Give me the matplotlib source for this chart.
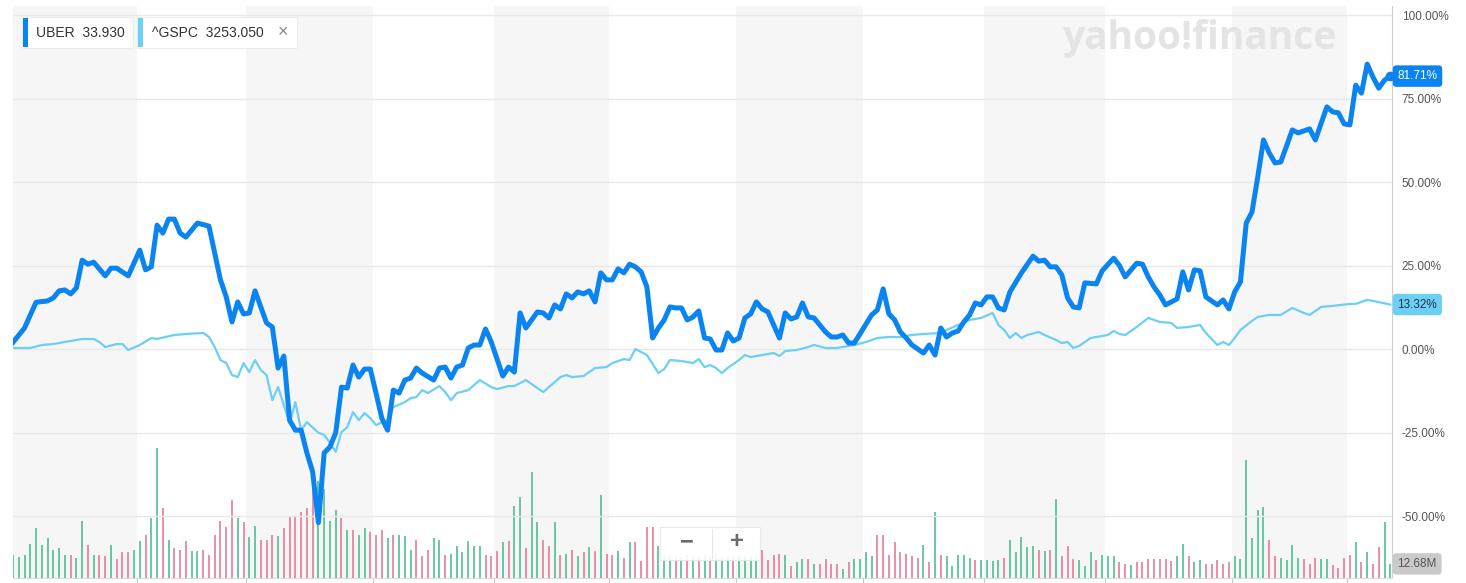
import matplotlib
matplotlib.use("Agg")
import matplotlib.pyplot as plt
from matplotlib.patches import Rectangle

plt.rcParams["font.family"] = ["Liberation Sans", "DejaVu Sans"]

#%% Data (trading-day index from 31 Dec 2019, % change vs. first close)

uber_day = [0, 2, 4, 6, 7, 8, 9, 10, 11, 12, 13, 14, 16, 17, 18, 20, 22, 23, 24, 25,
            26, 27, 28, 29, 30, 32, 34, 36, 37, 38, 39, 40, 41, 42, 44, 45, 46, 47, 48, 49,
            50, 51, 52, 53, 54, 55, 56, 57, 58, 59, 60, 61, 62, 63, 64, 65, 66, 67, 68, 69,
            70, 71, 73, 74, 75, 76, 77, 78, 79, 80, 81, 82, 83, 85, 86, 87, 88, 89, 91, 92,
            93, 94, 95, 96, 97, 98, 99, 100, 101, 102, 103, 104, 105, 106, 107, 108, 109, 110, 111, 112,
            113, 114, 115, 116, 117, 118, 119, 120, 121, 122, 123, 124, 125, 126, 127, 128, 129, 130, 131, 132,
            133, 134, 135, 136, 137, 138, 139, 141, 142, 143, 144, 145, 146, 149, 150, 151, 152, 153, 154, 155,
            156, 158, 159, 160, 161, 162, 163, 164, 165, 166, 167, 168, 169, 170, 171, 172, 173, 175, 177, 178,
            179, 180, 181, 182, 183, 184, 185, 186, 188, 189, 191, 192, 193, 195, 196, 197, 198, 199, 200, 202,
            203, 204, 205, 206, 207, 209, 210, 211, 212, 213, 214, 215, 216, 217, 218, 219, 220, 222, 223, 225,
            226, 228, 229, 230, 231, 232, 233, 234, 235, 236, 237, 238, 239]
uber_pct = [2.0, 6.3, 14.0, 14.4, 15.3, 17.4, 17.7, 16.5, 18.3, 26.6, 25.4, 26.0, 21.9, 24.2, 24.2, 21.9, 29.6, 23.7, 24.6, 37.1,
            34.7, 38.9, 38.9, 34.7, 33.5, 37.7, 36.8, 20.7, 15.6, 8.1, 14.1, 10.5, 10.8, 17.4, 7.8, 6.6, -5.7, -2.1, -21.3, -24.3,
            -24.3, -31.1, -36.8, -52.0, -31.1, -29.3, -25.1, -11.4, -11.7, -4.8, -8.4, -6.0, -6.0, -13.2, -20.7, -24.3, -12.3, -13.2, -9.3, -8.7,
            -5.7, -7.2, -9.3, -5.7, -5.4, -8.7, -5.4, -4.8, 0.3, 1.2, 1.2, 6.0, 2.1, -8.1, -5.4, -6.9, 10.8, 6.3, 11.1, 10.8,
            9.3, 13.2, 12.0, 16.5, 15.3, 17.1, 16.5, 17.4, 14.1, 22.8, 20.7, 20.7, 24.0, 22.8, 25.4, 24.6, 23.1, 18.6, 3.3, 6.3,
            8.7, 12.6, 12.3, 12.3, 8.7, 9.6, 11.4, 3.3, 3.0, -0.3, -0.3, 4.8, 2.4, 3.3, 9.3, 10.5, 14.1, 12.0, 11.1, 7.2,
            3.3, 10.8, 9.0, 9.6, 13.8, 9.6, 9.3, 5.1, 3.6, 3.6, 4.2, 1.8, 1.8, 10.2, 11.7, 18.0, 10.5, 8.7, 5.1, 3.3,
            1.2, -1.2, 1.2, -1.8, 6.3, 3.6, 4.8, 5.4, 8.1, 10.2, 13.8, 13.2, 15.6, 15.6, 12.3, 11.7, 17.1, 22.8, 27.8, 26.3,
            26.6, 24.6, 24.6, 22.2, 15.3, 12.6, 12.3, 19.8, 19.5, 23.4, 27.2, 25.0, 21.6, 25.7, 25.4, 21.6, 18.6, 16.2, 13.2, 15.0,
            23.1, 17.7, 23.7, 23.4, 15.6, 13.2, 14.7, 12.0, 17.1, 20.1, 37.7, 41.0, 51.5, 62.6, 58.7, 55.7, 56.0, 65.6, 64.7, 65.9,
            62.6, 72.5, 71.0, 70.7, 67.4, 67.1, 79.0, 76.6, 85.3, 81.4, 78.1, 80.5, 81.71]

gspc_day = [0, 2, 3, 5, 7, 9, 12, 14, 15, 16, 18, 19, 20, 22, 24, 25, 28, 30, 33, 34,
            35, 36, 37, 38, 39, 40, 41, 42, 43, 44, 45, 46, 48, 49, 50, 51, 53, 54, 55, 56,
            57, 58, 59, 60, 61, 62, 63, 64, 65, 66, 68, 69, 70, 71, 72, 74, 75, 76, 77, 79,
            80, 81, 83, 84, 86, 87, 89, 92, 93, 95, 96, 97, 99, 101, 103, 104, 106, 107, 108, 109,
            110, 112, 113, 114, 116, 118, 119, 120, 121, 122, 123, 124, 125, 126, 127, 128, 130, 132, 133, 134,
            136, 138, 139, 141, 143, 144, 145, 146, 148, 150, 152, 154, 156, 158, 161, 162, 164, 166, 168, 170,
            171, 172, 173, 174, 175, 176, 178, 179, 181, 182, 183, 184, 185, 187, 188, 190, 191, 192, 193, 195,
            197, 199, 201, 202, 204, 206, 207, 209, 210, 211, 212, 213, 215, 216, 218, 220, 222, 224, 225, 227,
            229, 232, 233, 235, 236, 239]
gspc_pct = [0.3, 0.3, 0.3, 1.2, 1.5, 2.1, 3.0, 3.0, 2.1, 0.6, 1.5, 1.5, -0.3, 1.2, 3.3, 3.0, 4.2, 4.5, 4.8, 3.6,
            0.6, -3.3, -4.2, -7.8, -8.4, -4.2, -6.9, -3.3, -6.3, -7.8, -15.3, -11.4, -22.2, -15.9, -24.3, -21.9, -25.1, -25.7, -28.1, -30.8,
            -24.9, -23.4, -18.9, -21.3, -19.2, -20.7, -22.8, -21.9, -21.3, -17.4, -15.9, -14.7, -14.4, -12.3, -13.2, -11.1, -12.9, -15.3, -13.2, -12.3,
            -10.8, -9.3, -11.4, -12.0, -11.1, -11.1, -9.3, -12.9, -11.4, -8.4, -7.8, -8.4, -8.1, -5.7, -5.4, -4.2, -3.0, -3.3, 0.0, -0.9,
            -1.8, -7.2, -6.0, -3.3, -3.6, -4.2, -3.0, -5.4, -4.8, -5.7, -7.2, -5.7, -4.5, -3.3, -1.8, -2.4, -1.8, -1.2, -2.1, -0.6,
            -0.3, 0.6, 1.2, 0.3, 0.3, 0.6, 0.9, 1.2, 2.1, 3.3, 3.6, 3.6, 4.2, 4.5, 4.8, 5.7, 7.2, 8.7, 9.3, 10.8,
            7.2, 5.7, 3.3, 4.8, 3.3, 4.2, 5.1, 4.2, 2.7, 1.8, 2.1, 0.3, 0.9, 3.3, 3.6, 4.2, 5.4, 4.5, 4.2, 6.6,
            9.3, 8.1, 7.8, 6.3, 6.6, 7.2, 4.8, 1.2, 2.1, 1.2, 3.3, 5.7, 8.4, 9.6, 10.2, 10.2, 12.3, 10.8, 10.2, 12.6,
            12.9, 13.5, 13.5, 14.7, 14.4, 13.32]

# UBER daily volume (millions), one bar per trading day 0..239
volume_m = [21, 19, 21, 31, 45, 30, 36, 25, 27, 21, 21, 18, 51, 30, 21, 21, 20, 30, 17, 23,
            23, 25, 33, 39, 54, 117, 63, 34, 27, 25, 33, 24, 24, 25, 21, 39, 51, 46, 70, 54,
            50, 37, 47, 34, 34, 39, 38, 45, 56, 56, 59, 63, 81, 87, 80, 51, 61, 54, 43, 43,
            39, 45, 41, 39, 43, 36, 39, 39, 38, 25, 34, 20, 25, 36, 34, 21, 22, 29, 23, 33,
            29, 29, 21, 20, 24, 32, 33, 65, 73, 27, 95, 50, 34, 29, 50, 21, 22, 25, 20, 23,
            28, 24, 75, 22, 21, 24, 18, 32, 32, 15, 46, 46, 29, 20, 20, 20, 19, 21, 20, 19,
            21, 20, 22, 19, 20, 20, 21, 19, 20, 21, 25, 16, 21, 22, 21, 11, 14, 17, 17, 13,
            13, 17, 13, 13, 8, 14, 17, 17, 23, 20, 39, 39, 21, 32, 23, 22, 20, 18, 30, 14,
            59, 21, 20, 11, 21, 21, 18, 16, 16, 16, 15, 16, 18, 34, 23, 37, 28, 29, 25, 24,
            25, 71, 20, 29, 17, 16, 11, 23, 16, 21, 20, 20, 14, 13, 12, 14, 14, 17, 17, 17,
            17, 15, 20, 31, 20, 14, 16, 13, 13, 16, 13, 14, 20, 17, 106, 36, 61, 64, 34, 20,
            18, 16, 30, 18, 17, 13, 18, 17, 17, 12, 9, 18, 21, 32, 14, 23, 13, 28, 50, 12.68]
volume_dir = ("gggggggggg" "rggrgrrgrr" "rggrggrgrr" "rggrrrrrrg" "rggrrrgrrr"
              "rrrggggrgr" "ggrrrgrggg" "rrrggrgggg" "ggrrr"
              "grggrggrrg" "rgrgrgrgrr" "grgrrrrggg" "rgrgrgrggg" "rggggrrrrg"
              "rggrgrrrrg" "rggggrrrrr" "rrrgrgrggg" "ggrgggg"
              "rgggggrgrg" "rrrgggrggg" "rrgrrrrrrr" "ggrggrrrrr" "ggggggrrgg"
              "ggrrrggrrr" "rgrgrrgg")

# first trading day of each month (Jan..Dec 2020)
month_start = [1, 22, 41, 63, 84, 104, 126, 148, 169, 190, 212, 232]

uber_last, gspc_last, vol_last = 81.71, 13.32, 12.68

#%% Colours

UBER_BLUE = "#0a84f0"
GSPC_BLUE = "#6ccff6"
UP_GREEN = "#3fb98a"
DOWN_RED = "#e3708a"
BAND = "#f6f6f6"

#%% Figure

W, H = 1466, 583
fig = plt.figure(figsize=(W / 100, H / 100), dpi=100)
rect = [13 / W, 5 / H, 1379 / W, 572 / H]

ax_v = fig.add_axes(rect)   # volume + background bands
ax = fig.add_axes(rect)     # percent lines on top
ax.patch.set_visible(False)

xmin, xmax = 0, 239.3

# alternating month bands
bounds = [xmin] + [m - 0.5 for m in month_start[1:]] + [xmax]
for i in range(len(bounds) - 1):
    if i % 2 == 0:
        ax_v.axvspan(bounds[i], bounds[i + 1], color=BAND, lw=0, zorder=0)

# volume bars
days = list(range(len(volume_m)))
bar_colors = [UP_GREEN if c == "g" else DOWN_RED for c in volume_dir]
ax_v.vlines(days, 0, volume_m, colors=bar_colors, linewidth=1.1, zorder=2)
ax_v.set_ylim(0, 572 * 0.9)
ax_v.set_xlim(xmin, xmax)
ax_v.axis("off")

# percent gridlines
yticks = [-50, -25, 0, 25, 50, 75, 100]
for yt in yticks:
    ax.axhline(yt, color="#e8e8e8", lw=1, zorder=1)

ax.plot(gspc_day, gspc_pct, color=GSPC_BLUE, lw=1.6, solid_joinstyle="round", zorder=3)
ax.plot(uber_day, uber_pct, color=UBER_BLUE, lw=3.6, solid_joinstyle="round", zorder=4)
ax.plot(uber_day[-1], uber_pct[-1], "o", color=UBER_BLUE, ms=6, zorder=5, clip_on=False)

ax.set_xlim(xmin, xmax)
ax.set_ylim(-68.56, 102.7)

for side in ["top", "left"]:
    ax.spines[side].set_visible(False)
ax.spines["right"].set_color("#cfcfcf")
ax.spines["bottom"].set_color("#dddddd")

ax.yaxis.set_ticks_position("right")
ax.set_yticks(yticks)
ax.set_yticklabels([f"{v:.2f}%" for v in yticks])
ax.tick_params(axis="y", length=0, pad=7, labelsize=8.5, labelcolor="#555555")
ax.set_xticks([m - 0.5 for m in month_start[1:]])
ax.set_xticklabels([])
ax.tick_params(axis="x", length=4, color="#c8c8c8")

# value badges on the right
badge_x = 1.004
badge_box = "round,pad=0.4,rounding_size=0.3"
ax.text(badge_x, uber_last, f"{uber_last:.2f}%", transform=ax.get_yaxis_transform(),
        ha="left", va="center", fontsize=8.5, color="white",
        bbox=dict(boxstyle=badge_box, fc=UBER_BLUE, ec="none"))
ax.text(badge_x, gspc_last, f"{gspc_last:.2f}%", transform=ax.get_yaxis_transform(),
        ha="left", va="center", fontsize=8.5, color="#1d3550",
        bbox=dict(boxstyle=badge_box, fc=GSPC_BLUE, ec="none"))
ax_v.text(badge_x, vol_last, f"{vol_last:.2f}M", transform=ax_v.get_yaxis_transform(),
          ha="left", va="center", fontsize=8.5, color="#555555",
          bbox=dict(boxstyle=badge_box, fc="#cacaca", ec="none"))

#%% Overlay in pixel units: legend chips, watermark, zoom buttons

ov = fig.add_axes([0, 0, 1, 1], zorder=10)
ov.set_xlim(0, W)
ov.set_ylim(H, 0)
ov.axis("off")

ov.text(1200, 38, "yahoo!finance", ha="center", va="center", fontsize=28,
        fontweight="bold", color="#e4e4e4", family=["Open Sans", "DejaVu Sans"])

# chip 1
ov.add_patch(Rectangle((22, 17), 111, 31, fc="white", ec="#ececec", lw=0.8))
ov.add_patch(Rectangle((23, 18), 5, 29, fc=UBER_BLUE, ec="none"))
ov.text(36, 33, "UBER  33.930", ha="left", va="center", fontsize=10, color="#333333")
# chip 2
ov.add_patch(Rectangle((137, 17), 160, 31, fc="white", ec="#ececec", lw=0.8))
ov.add_patch(Rectangle((138, 18), 5, 29, fc=GSPC_BLUE, ec="none"))
ov.text(152, 33, "^GSPC  3253.050", ha="left", va="center", fontsize=10, color="#333333")
ov.text(283, 33, "\u00d7", ha="center", va="center", fontsize=13, color="#8a8a8a")

# zoom buttons
ov.add_patch(Rectangle((660, 527), 100, 33, fc="white", ec="#e6e6e6", lw=0.8, alpha=0.9))
ov.plot([712, 712], [529, 558], color="#e6e6e6", lw=0.8)
ov.text(687, 542, "\u2212", ha="center", va="center", fontsize=17, fontweight="bold", color="#6b6b6b")
ov.text(737, 542, "+", ha="center", va="center", fontsize=17, fontweight="bold", color="#6b6b6b")

fig.savefig("out.png", dpi=100)
